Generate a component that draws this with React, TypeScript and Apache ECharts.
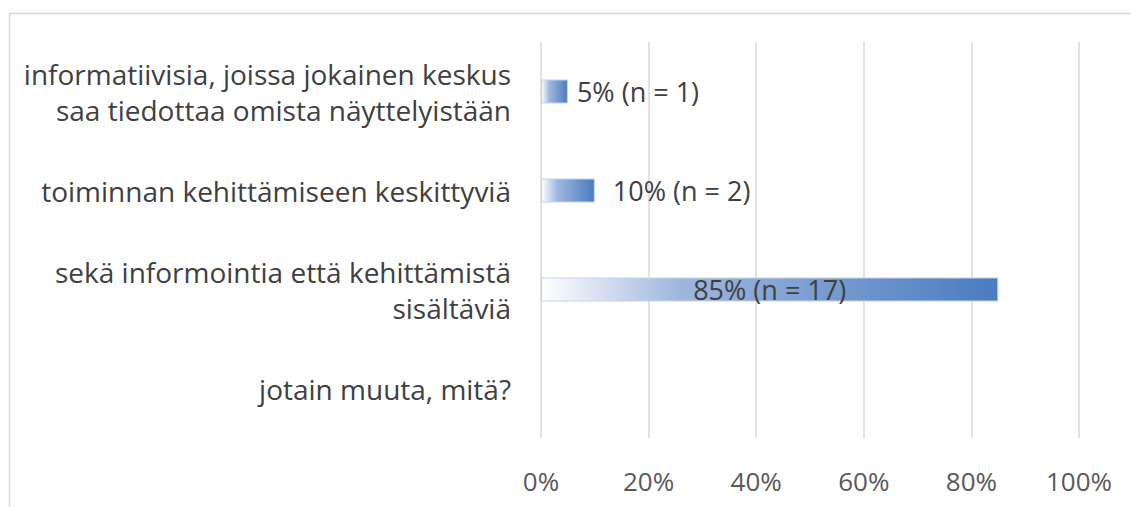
import React, { useEffect, useRef } from "react";
import * as echarts from "echarts";

const categories = [
  "informatiivisia, joissa jokainen keskus\nsaa tiedottaa omista näyttelyistään",
  "toiminnan kehittämiseen keskittyviä",
  "sekä informointia että kehittämistä\nsisältäviä",
  "jotain muuta, mitä?",
];
const percentValues = [5, 10, 85, 0];
const counts = [1, 2, 17, 0];
const tickValues = [0, 20, 40, 60, 80, 100];

const labelPositions = ["right", "right", "inside", "right"];
const labelDistances = [9, 18, 0, 5];

const FONT = "'Open Sans', 'Noto Sans', sans-serif";

export default function App() {
  const ref = useRef<HTMLDivElement>(null);
  useEffect(() => {
    if (!ref.current) return;
    const chart = echarts.init(ref.current, null, { renderer: "svg" });
    const gradient = new echarts.graphic.LinearGradient(0, 0, 1, 0, [
      { offset: 0, color: "#ffffff" },
      { offset: 0.3, color: "#9fb7de" },
      { offset: 1, color: "#4a7cc0" },
    ]);
    chart.setOption({
      animation: false,
      backgroundColor: "#ffffff",
      textStyle: { fontFamily: FONT },
      graphic: [
        {
          type: "rect",
          shape: { x: 9.5, y: 13.5, width: 1300, height: 700 },
          style: { fill: "none", stroke: "#d9d9d9", lineWidth: 1.5 },
          silent: true,
          z: -10,
        },
      ],
      grid: { left: 541, right: 52, top: 42, bottom: 69, containLabel: false },
      xAxis: {
        type: "value",
        min: tickValues[0],
        max: tickValues[tickValues.length - 1],
        interval: 20,
        axisLine: { show: false },
        axisTick: { show: false },
        splitLine: { show: true, lineStyle: { color: "#d9d9d9", width: 1.5 } },
        axisLabel: {
          formatter: (v: number) => v + "%",
          color: "#595959",
          fontSize: 26,
          fontFamily: FONT,
          margin: 30,
        },
      },
      yAxis: {
        type: "category",
        data: categories,
        inverse: true,
        axisLine: { show: false },
        axisTick: { show: false },
        splitLine: { show: false },
        axisLabel: {
          color: "#404040",
          fontSize: 28,
          fontFamily: FONT,
          margin: 30,
          lineHeight: 36,
          align: "right",
        },
      },
      series: [
        {
          type: "bar",
          barWidth: 24,
          data: percentValues.map((v, i) => ({
            value: v,
            itemStyle: { borderWidth: v > 0 ? 1 : 0 },
            label: {
              show: v > 0,
              position: labelPositions[i],
              distance: labelDistances[i],
              formatter: () => `${percentValues[i]}% (n = ${counts[i]})`,
              color: "#404040",
              fontSize: 27,
              fontFamily: FONT,
            },
          })),
          itemStyle: {
            color: gradient,
            borderColor: "#c2d2ec",
            borderWidth: 1,
          },
        },
      ],
    });
    return () => chart.dispose();
  }, []);
  return (
    <div
      ref={ref}
      style={{ position: "fixed", left: 0, top: 0, width: 1131, height: 507 }}
    />
  );
}
